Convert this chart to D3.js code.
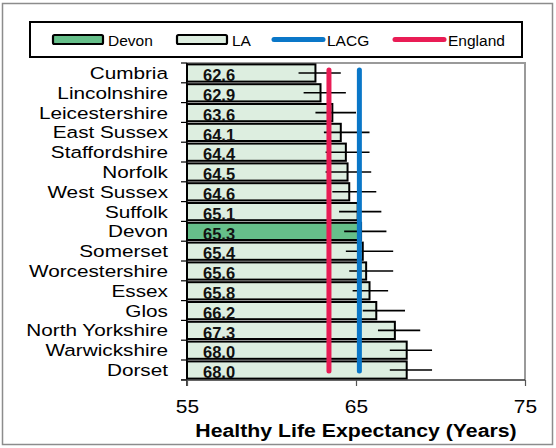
<!DOCTYPE html>
<html>
<head>
<meta charset="utf-8">
<script src="https://cdn.jsdelivr.net/npm/d3@7"></script>
<style>
  body { margin: 0; background: #fff; }
  text { font-family: "Liberation Sans", Arial, sans-serif; }
</style>
</head>
<body>
<div class="chart"></div>
<script>
// Chart data
const AREAS = ["Cumbria", "Lincolnshire", "Leicestershire", "East Sussex", "Staffordshire",
               "Norfolk", "West Sussex", "Suffolk", "Devon", "Somerset", "Worcestershire",
               "Essex", "Glos", "North Yorkshire", "Warwickshire", "Dorset"];
const HLE = [62.6, 62.9, 63.6, 64.1, 64.4, 64.5, 64.6, 65.1, 65.3, 65.4, 65.6, 65.8, 66.2, 67.3, 68.0, 68.0];
const LOWER = [61.6, 61.9, 62.6, 63.1, 63.2, 63.2, 63.6, 64.0, 64.3, 64.4, 64.6, 64.8, 65.4, 66.3, 67.0, 67.0];
const UPPER = [64.1, 64.4, 65.0, 65.8, 65.8, 65.9, 66.2, 66.5, 66.8, 67.2, 67.2, 66.9, 67.9, 68.8, 69.5, 69.5];
const ENGLAND = 63.4;
const LACG = 65.2;
const X_TICKS = [55, 65, 75];
const HIGHLIGHT = "Devon";

// Frame dimensions
const FRAME_WIDTH = 556;
const FRAME_HEIGHT = 448;
const PLOT = {left: 187, right: 525, top: 63, bottom: 380};

const DEVON_FILL = "#66bf8a";
const LA_FILL = "#ddeee0";
const LACG_COLOR = "#0a77c8";
const ENGLAND_COLOR = "#e91c55";

let data = AREAS.map((a, i) => ({area: a, value: HLE[i], lo: LOWER[i], hi: UPPER[i]}));

const FRAME = d3.select(".chart")
                .append("svg")
                .attr("width", FRAME_WIDTH)
                .attr("height", FRAME_HEIGHT);

// outer border
FRAME.append("rect")
     .attr("x", 2.5).attr("y", 3.5)
     .attr("width", 550).attr("height", 441)
     .attr("fill", "none")
     .attr("stroke", "#8c8c8c")
     .attr("stroke-width", 1.5);

// scales
const X_SCALE = d3.scaleLinear()
                  .domain([55, 75])
                  .range([PLOT.left, PLOT.right]);

const Y_SCALE = d3.scaleBand()
                  .domain(AREAS)
                  .range([PLOT.top, PLOT.bottom])
                  .paddingInner(0.13)
                  .paddingOuter(0.07);

// plot area border (top + right grey)
FRAME.append("path")
     .attr("d", "M" + PLOT.left + "," + PLOT.top + "H" + PLOT.right + "V" + PLOT.bottom)
     .attr("fill", "none")
     .attr("stroke", "#9a9a9a")
     .attr("stroke-width", 2);

// bars
FRAME.selectAll(".bar")
     .data(data)
     .enter()
     .append("rect")
        .attr("class", "bar")
        .attr("x", X_SCALE(55))
        .attr("y", (d) => {return Y_SCALE(d.area)})
        .attr("width", (d) => {return X_SCALE(d.value) - X_SCALE(55)})
        .attr("height", Y_SCALE.bandwidth())
        .attr("fill", (d) => {return d.area == HIGHLIGHT ? DEVON_FILL : LA_FILL})
        .attr("stroke", "#000")
        .attr("stroke-width", 2);

// value labels
FRAME.selectAll(".val")
     .data(data)
     .enter()
     .append("text")
        .attr("class", "val")
        .attr("x", 203)
        .attr("y", (d) => {return Y_SCALE(d.area) + Y_SCALE.bandwidth() - 0.5})
        .attr("font-size", "16.5px")
        .attr("font-weight", "bold")
        .attr("fill", "#111")
        .text((d) => {return d.value.toFixed(1)});

// error bars
FRAME.selectAll(".err")
     .data(data)
     .enter()
     .append("line")
        .attr("class", "err")
        .attr("x1", (d) => {return X_SCALE(d.lo)})
        .attr("x2", (d) => {return X_SCALE(d.hi)})
        .attr("y1", (d) => {return Y_SCALE(d.area) + Y_SCALE.bandwidth() / 2})
        .attr("y2", (d) => {return Y_SCALE(d.area) + Y_SCALE.bandwidth() / 2})
        .attr("stroke", "#000")
        .attr("stroke-width", 1.6);

// reference lines
const Y_FIRST = Y_SCALE(AREAS[0]) + Y_SCALE.bandwidth() / 2 - 3;
const Y_LAST = Y_SCALE(AREAS[AREAS.length - 1]) + Y_SCALE.bandwidth() / 2 + 1;
[[ENGLAND, ENGLAND_COLOR], [LACG, LACG_COLOR]].forEach((r) => {
    FRAME.append("line")
         .attr("x1", X_SCALE(r[0])).attr("x2", X_SCALE(r[0]))
         .attr("y1", Y_FIRST).attr("y2", Y_LAST)
         .attr("stroke", r[1])
         .attr("stroke-width", 5)
         .attr("stroke-linecap", "round");
});

// left axis: ticks at category boundaries
const STEP = Y_SCALE.step();
const BOUNDS = d3.range(AREAS.length + 1).map((i) => PLOT.top + i * STEP);
FRAME.selectAll(".ytick")
     .data(BOUNDS)
     .enter()
     .append("line")
        .attr("x1", PLOT.left - 6).attr("x2", PLOT.left)
        .attr("y1", (d) => d).attr("y2", (d) => d)
        .attr("stroke", "#000")
        .attr("stroke-width", 1.2);

FRAME.append("line")
     .attr("x1", PLOT.left).attr("x2", PLOT.left)
     .attr("y1", PLOT.top).attr("y2", PLOT.bottom + 6)
     .attr("stroke", "#000")
     .attr("stroke-width", 1.5);

// category labels
FRAME.selectAll(".cat")
     .data(AREAS)
     .enter()
     .append("text")
        .attr("class", "cat")
        .attr("transform", (d) => {return "translate(168," + (Y_SCALE(d) + Y_SCALE.bandwidth() / 2 + 6) + ") scale(1.22,1)"})
        .attr("text-anchor", "end")
        .attr("font-size", "17px")
        .attr("fill", "#000")
        .text((d) => d);

// bottom axis
let xAxis = FRAME.append("g")
                 .attr("transform", "translate(0," + PLOT.bottom + ")")
                 .call(d3.axisBottom(X_SCALE).tickValues(X_TICKS).tickSize(6).tickFormat(d3.format("d")));
xAxis.select(".domain").attr("d", "M" + (PLOT.left - 6) + ",0H" + PLOT.right).attr("stroke", "#333").attr("stroke-width", 1.5);
xAxis.selectAll(".tick line").attr("stroke", "#555").attr("stroke-width", 1.2);
xAxis.selectAll(".tick text")
     .attr("font-size", "19px")
     .attr("font-family", "Liberation Sans, Arial, sans-serif")
     .attr("fill", "#000")
     .attr("y", 0)
     .attr("dy", 0)
     .attr("transform", "translate(0,33) scale(1.1,1)");

// axis title
FRAME.append("text")
     .attr("transform", "translate(356,437) scale(1.15,1)")
     .attr("text-anchor", "middle")
     .attr("font-size", "18.5px")
     .attr("font-weight", "bold")
     .attr("fill", "#000")
     .text("Healthy Life Expectancy (Years)");

// legend
FRAME.append("rect")
     .attr("x", 30).attr("y", 22)
     .attr("width", 492).attr("height", 35)
     .attr("fill", "#fff")
     .attr("stroke", "#000")
     .attr("stroke-width", 2);

const LEGEND = [
    {label: "Devon", type: "bar", color: DEVON_FILL, x: 53},
    {label: "LA", type: "bar", color: LA_FILL, x: 177},
    {label: "LACG", type: "line", color: LACG_COLOR, x: 272},
    {label: "England", type: "line", color: ENGLAND_COLOR, x: 393}
];
LEGEND.forEach((l) => {
    if (l.type == "bar") {
        FRAME.append("rect")
             .attr("x", l.x).attr("y", 35)
             .attr("width", 50).attr("height", 9)
             .attr("rx", 1.5)
             .attr("fill", l.color)
             .attr("stroke", "#000")
             .attr("stroke-width", 2.2);
    } else {
        FRAME.append("line")
             .attr("x1", l.x + 2).attr("x2", l.x + 51)
             .attr("y1", 39.5).attr("y2", 39.5)
             .attr("stroke", l.color)
             .attr("stroke-width", 5)
             .attr("stroke-linecap", "round");
    }
    FRAME.append("text")
         .attr("x", l.x + 55)
         .attr("y", 45.5)
         .attr("font-size", "15.5px")
         .attr("fill", "#000")
         .text(l.label);
});
</script>
</body>
</html>
